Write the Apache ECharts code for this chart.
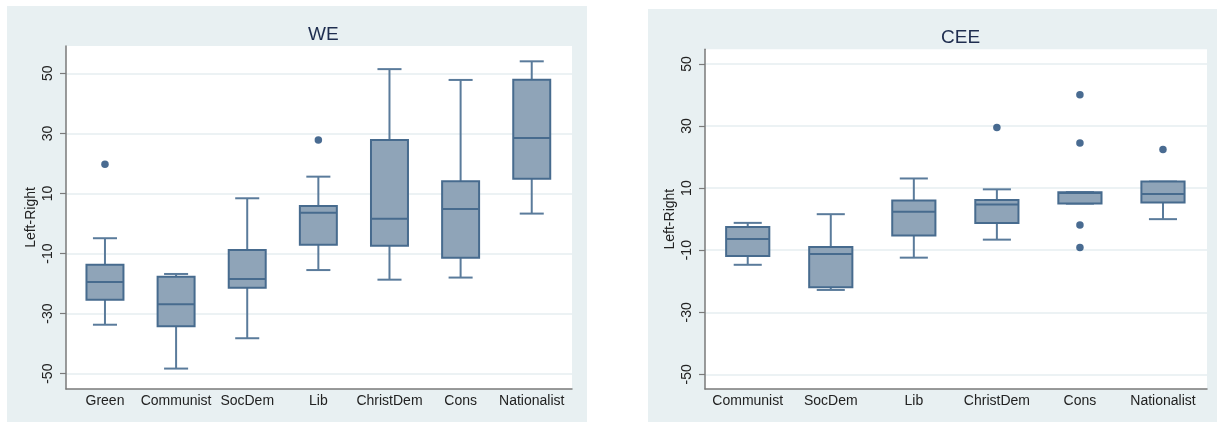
<!DOCTYPE html>
<html>
<head>
<meta charset="utf-8">
<script src="https://cdn.jsdelivr.net/npm/echarts@6/dist/echarts.min.js"></script>
<style>
html,body{margin:0;padding:0;background:#fff;}
#chart{width:1217px;height:422px;}
</style>
</head>
<body>
<div id="chart"></div>
<script>
// ---- data ----
const yTicks = [-50, -30, -10, 10, 30, 50];

const weCategories   = ['Green', 'Communist', 'SocDem', 'Lib', 'ChristDem', 'Cons', 'Nationalist'];
const weLowWhisker   = [-33.7, -48.3, -38.2, -15.5, -18.7, -18.0, 3.3];
const weQ1           = [-25.4, -34.2, -21.4, -7.1, -7.4, -11.4, 14.9];
const weMedian       = [-19.5, -26.9, -18.5, 3.6, 1.6, 4.8, 28.5];
const weQ3           = [-13.7, -17.7, -8.8, 5.8, 27.8, 14.1, 47.9];
const weHighWhisker  = [-4.9, -16.8, 8.4, 15.6, 51.4, 47.8, 54.0];
const weOutliers     = [['Green', 19.7], ['Lib', 27.8]];

const ceeCategories  = ['Communist', 'SocDem', 'Lib', 'ChristDem', 'Cons', 'Nationalist'];
const ceeLowWhisker  = [-14.7, -22.8, -12.4, -6.6, 5.0, 0.0];
const ceeQ1          = [-11.9, -21.9, -5.3, -1.2, 5.0, 5.4];
const ceeMedian      = [-6.4, -11.2, 2.4, 4.7, 8.4, 8.1];
const ceeQ3          = [-2.5, -9.0, 6.0, 6.2, 8.7, 12.1];
const ceeHighWhisker = [-1.2, 1.6, 13.1, 9.6, 8.7, 12.1];
const ceeOutliers    = [['ChristDem', 29.5], ['Cons', 40.1], ['Cons', 24.5], ['Cons', -1.9], ['Cons', -9.1], ['Nationalist', 22.4]];

// ---- styles ----
const FONT = '"Liberation Sans", Arial, sans-serif';
const PANEL_BG = '#e8f0f2';
const GRID_LINE = '#ecf2f4';
const AXIS_COL = '#7a7a7a';
const BOX_FILL = '#8fa4b8';
const BOX_EDGE = '#476b8e';
const WHISK = '#5a7b9b';
const DOT = '#1b4676';

function buildRows(lo, q1, med, q3, hi) {
  return lo.map((v, i) => [i, lo[i], q1[i], med[i], q3[i], hi[i]]);
}

function renderBox(params, api) {
  const x = api.value(0);
  const pLo = api.coord([x, api.value(1)]);
  const pQ1 = api.coord([x, api.value(2)]);
  const pMed = api.coord([x, api.value(3)]);
  const pQ3 = api.coord([x, api.value(4)]);
  const pHi = api.coord([x, api.value(5)]);
  const band = api.size([1, 0])[0];
  const bw = band * 0.52;
  const cw = bw * 0.65;
  const cx = pMed[0];
  const ws = {stroke: WHISK, lineWidth: 2, fill: null};
  return {
    type: 'group',
    children: [
      {type: 'line', shape: {x1: cx, y1: pHi[1], x2: cx, y2: pQ3[1]}, style: ws},
      {type: 'line', shape: {x1: cx, y1: pQ1[1], x2: cx, y2: pLo[1]}, style: ws},
      {type: 'line', shape: {x1: cx - cw / 2, y1: pHi[1], x2: cx + cw / 2, y2: pHi[1]}, style: ws},
      {type: 'line', shape: {x1: cx - cw / 2, y1: pLo[1], x2: cx + cw / 2, y2: pLo[1]}, style: ws},
      {type: 'rect', shape: {x: cx - bw / 2, y: pQ3[1], width: bw, height: pQ1[1] - pQ3[1]},
        style: {fill: BOX_FILL, stroke: BOX_EDGE, lineWidth: 2}},
      {type: 'line', shape: {x1: cx - bw / 2, y1: pMed[1], x2: cx + bw / 2, y2: pMed[1]},
        style: {stroke: BOX_EDGE, lineWidth: 2}}
    ]
  };
}

function frameY(gridIndex, min, max) {
  return {
    type: 'value', gridIndex, min, max,
    name: 'Left-Right', nameLocation: 'middle', nameGap: 28, nameRotate: 90,
    nameTextStyle: {fontFamily: FONT, fontSize: 14, color: '#222'},
    axisLine: {show: true, onZero: false, lineStyle: {color: AXIS_COL, width: 1.5}},
    axisTick: {show: true, length: 6, customValues: yTicks, lineStyle: {color: AXIS_COL, width: 1.2}},
    axisLabel: {show: true, customValues: yTicks, rotate: 90, margin: 11,
      fontFamily: FONT, fontSize: 14, color: '#222'},
    splitLine: {show: true, lineStyle: {color: GRID_LINE, width: 2}}
  };
}
function dataY(gridIndex, min, max) {
  return {type: 'value', gridIndex, min, max, show: false, splitLine: {show: false}};
}
function frameX(gridIndex, cats) {
  return {
    type: 'category', gridIndex, data: cats,
    axisLine: {show: true, onZero: false, lineStyle: {color: AXIS_COL, width: 1.5}},
    axisTick: {show: false}, axisLabel: {show: false}, splitLine: {show: false}
  };
}
function dataX(gridIndex, cats) {
  return {
    type: 'category', gridIndex, data: cats,
    axisLine: {show: false, onZero: false}, axisTick: {show: false},
    axisLabel: {show: true, interval: 0, margin: 5, fontFamily: FONT, fontSize: 14, color: '#222'},
    splitLine: {show: false}
  };
}

const chart = echarts.init(document.getElementById('chart'), null, {renderer: 'canvas'});
chart.setOption({
  animation: false,
  backgroundColor: '#ffffff',
  graphic: [
    {type: 'rect', z: -10, shape: {x: 7, y: 6, width: 580, height: 416}, style: {fill: PANEL_BG}},
    {type: 'rect', z: -10, shape: {x: 648, y: 9, width: 569, height: 413}, style: {fill: PANEL_BG}}
  ],
  title: [
    {text: 'WE', left: 303, top: 20, textStyle: {fontFamily: FONT, fontSize: 19, fontWeight: 'normal', color: '#1e2d4f'}},
    {text: 'CEE', left: 936, top: 23, textStyle: {fontFamily: FONT, fontSize: 19, fontWeight: 'normal', color: '#1e2d4f'}}
  ],
  grid: [
    {left: 66, top: 46, width: 506, height: 343, show: true, backgroundColor: '#ffffff', borderWidth: 0},
    {left: 69.4, top: 46, width: 497.9, height: 343},
    {left: 705, top: 49.3, width: 502, height: 339.7, show: true, backgroundColor: '#ffffff', borderWidth: 0},
    {left: 706.2, top: 49.3, width: 498.3, height: 339.7}
  ],
  xAxis: [
    frameX(0, weCategories), dataX(1, weCategories),
    frameX(2, ceeCategories), dataX(3, ceeCategories)
  ],
  yAxis: [
    frameY(0, -55.1, 59.1), dataY(1, -55.1, 59.1),
    frameY(2, -54.7, 54.7), dataY(3, -54.7, 54.7)
  ],
  series: [
    {type: 'custom', xAxisIndex: 1, yAxisIndex: 1, renderItem: renderBox,
      encode: {x: 0, y: [1, 2, 3, 4, 5]},
      data: buildRows(weLowWhisker, weQ1, weMedian, weQ3, weHighWhisker)},
    {type: 'scatter', xAxisIndex: 1, yAxisIndex: 1, symbolSize: 7.5,
      itemStyle: {color: DOT}, data: weOutliers},
    {type: 'custom', xAxisIndex: 3, yAxisIndex: 3, renderItem: renderBox,
      encode: {x: 0, y: [1, 2, 3, 4, 5]},
      data: buildRows(ceeLowWhisker, ceeQ1, ceeMedian, ceeQ3, ceeHighWhisker)},
    {type: 'scatter', xAxisIndex: 3, yAxisIndex: 3, symbolSize: 7.5,
      itemStyle: {color: DOT}, data: ceeOutliers}
  ]
});
</script>
</body>
</html>
